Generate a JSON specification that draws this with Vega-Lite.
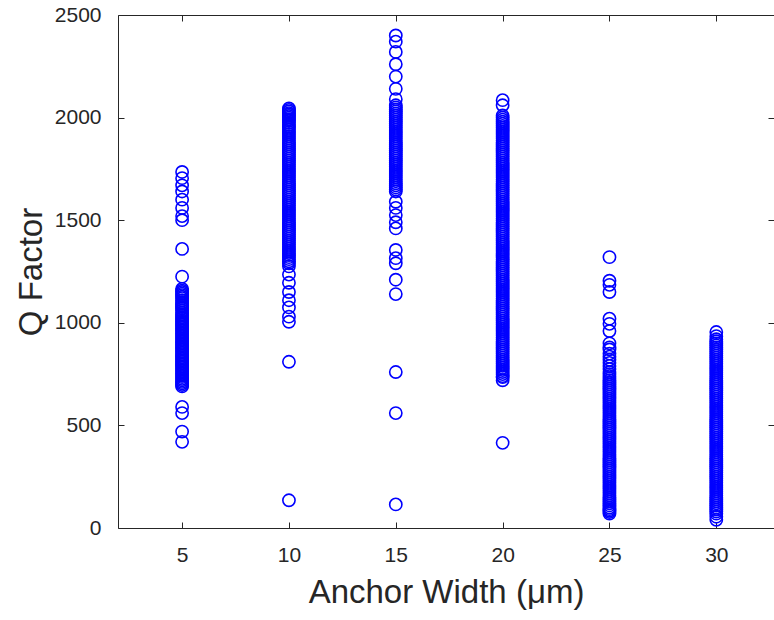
{
  "$schema": "https://vega.github.io/schema/vega-lite/v6.json",
  "autosize": "none",
  "padding": {"left": 118, "top": 15, "right": 0, "bottom": 92},
  "width": 656,
  "height": 513,
  "background": "white",
  "config": {
    "view": {"stroke": "#262626", "strokeWidth": 1},
    "font": "Liberation Sans",
    "axis": {
      "grid": false,
      "domain": false,
      "tickColor": "#262626",
      "tickSize": -6,
      "tickWidth": 1,
      "labelColor": "#262626",
      "labelFontSize": 21,
      "labelFont": "Liberation Sans",
      "titleFont": "Liberation Sans",
      "titleFontSize": 33,
      "titleFontWeight": "normal",
      "titleColor": "#262626",
      "format": "d"
    }
  },
  "data": {"values": [
    {"w":5,"q":1735},{"w":5,"q":1705},{"w":5,"q":1670},{"w":5,"q":1640},{"w":5,"q":1600},{"w":5,"q":1560},{"w":5,"q":1520},{"w":5,"q":1500},
    {"w":5,"q":1360},{"w":5,"q":1225},{"w":5,"q":1165},{"w":5,"q":1150},{"w":5,"q":1135},{"w":5,"q":1120},{"w":5,"q":1100},{"w":5,"q":1085},{"w":5,"q":1070},{"w":5,"q":1050},{"w":5,"q":1035},{"w":5,"q":1020},{"w":5,"q":1005},{"w":5,"q":990},{"w":5,"q":975},{"w":5,"q":960},{"w":5,"q":945},{"w":5,"q":930},{"w":5,"q":915},{"w":5,"q":900},{"w":5,"q":885},{"w":5,"q":870},{"w":5,"q":855},{"w":5,"q":840},{"w":5,"q":825},{"w":5,"q":810},{"w":5,"q":795},{"w":5,"q":780},{"w":5,"q":765},{"w":5,"q":750},{"w":5,"q":735},{"w":5,"q":720},{"w":5,"q":705},{"w":5,"q":690},
    {"w":5,"q":1157},{"w":5,"q":1142},{"w":5,"q":1127},{"w":5,"q":1110},{"w":5,"q":1092},{"w":5,"q":1077},{"w":5,"q":1060},{"w":5,"q":1042},{"w":5,"q":1027},{"w":5,"q":1012},{"w":5,"q":997},{"w":5,"q":982},{"w":5,"q":967},{"w":5,"q":952},{"w":5,"q":937},{"w":5,"q":922},{"w":5,"q":907},{"w":5,"q":892},{"w":5,"q":877},{"w":5,"q":862},{"w":5,"q":847},{"w":5,"q":832},{"w":5,"q":817},{"w":5,"q":802},{"w":5,"q":787},{"w":5,"q":772},{"w":5,"q":757},{"w":5,"q":742},{"w":5,"q":727},{"w":5,"q":712},{"w":5,"q":697},
    {"w":5,"q":590},{"w":5,"q":560},{"w":5,"q":470},{"w":5,"q":420},
    {"w":10,"q":2045},{"w":10,"q":2030},{"w":10,"q":2015},{"w":10,"q":2000},{"w":10,"q":1985},{"w":10,"q":1965},{"w":10,"q":1950},{"w":10,"q":1930},{"w":10,"q":1910},{"w":10,"q":1890},{"w":10,"q":1870},{"w":10,"q":1850},{"w":10,"q":1830},{"w":10,"q":1810},{"w":10,"q":1790},{"w":10,"q":1770},{"w":10,"q":1750},{"w":10,"q":1730},{"w":10,"q":1710},{"w":10,"q":1690},{"w":10,"q":1670},{"w":10,"q":1650},{"w":10,"q":1630},{"w":10,"q":1610},{"w":10,"q":1590},{"w":10,"q":1570},{"w":10,"q":1550},{"w":10,"q":1530},{"w":10,"q":1510},{"w":10,"q":1490},{"w":10,"q":1470},{"w":10,"q":1450},{"w":10,"q":1430},{"w":10,"q":1410},{"w":10,"q":1390},{"w":10,"q":1370},{"w":10,"q":1350},{"w":10,"q":1330},{"w":10,"q":1310},{"w":10,"q":1290},{"w":10,"q":1275},
    {"w":10,"q":2038},{"w":10,"q":2022},{"w":10,"q":2008},{"w":10,"q":1992},{"w":10,"q":1975},{"w":10,"q":1958},{"w":10,"q":1940},{"w":10,"q":1920},{"w":10,"q":1900},{"w":10,"q":1880},{"w":10,"q":1860},{"w":10,"q":1840},{"w":10,"q":1820},{"w":10,"q":1800},{"w":10,"q":1780},{"w":10,"q":1760},{"w":10,"q":1740},{"w":10,"q":1720},{"w":10,"q":1700},{"w":10,"q":1680},{"w":10,"q":1660},{"w":10,"q":1640},{"w":10,"q":1620},{"w":10,"q":1600},{"w":10,"q":1580},{"w":10,"q":1560},{"w":10,"q":1540},{"w":10,"q":1520},{"w":10,"q":1500},{"w":10,"q":1480},{"w":10,"q":1460},{"w":10,"q":1440},{"w":10,"q":1420},{"w":10,"q":1400},{"w":10,"q":1380},{"w":10,"q":1360},{"w":10,"q":1340},{"w":10,"q":1320},{"w":10,"q":1300},
    {"w":10,"q":1235},{"w":10,"q":1195},{"w":10,"q":1150},{"w":10,"q":1110},{"w":10,"q":1075},{"w":10,"q":1030},{"w":10,"q":1005},{"w":10,"q":810},{"w":10,"q":135},
    {"w":15,"q":2400},{"w":15,"q":2370},{"w":15,"q":2320},{"w":15,"q":2260},{"w":15,"q":2200},{"w":15,"q":2140},{"w":15,"q":2090},{"w":15,"q":2060},{"w":15,"q":2040},{"w":15,"q":2020},{"w":15,"q":2000},{"w":15,"q":1980},{"w":15,"q":1960},{"w":15,"q":1940},{"w":15,"q":1920},{"w":15,"q":1900},{"w":15,"q":1880},{"w":15,"q":1860},{"w":15,"q":1840},{"w":15,"q":1820},{"w":15,"q":1800},{"w":15,"q":1780},{"w":15,"q":1760},{"w":15,"q":1740},{"w":15,"q":1720},{"w":15,"q":1700},{"w":15,"q":1680},{"w":15,"q":1660},{"w":15,"q":1640},
    {"w":15,"q":2050},{"w":15,"q":2030},{"w":15,"q":2010},{"w":15,"q":1990},{"w":15,"q":1970},{"w":15,"q":1950},{"w":15,"q":1930},{"w":15,"q":1910},{"w":15,"q":1890},{"w":15,"q":1870},{"w":15,"q":1850},{"w":15,"q":1830},{"w":15,"q":1810},{"w":15,"q":1790},{"w":15,"q":1770},{"w":15,"q":1750},{"w":15,"q":1730},{"w":15,"q":1710},{"w":15,"q":1690},{"w":15,"q":1670},{"w":15,"q":1650},
    {"w":15,"q":1590},{"w":15,"q":1560},{"w":15,"q":1525},{"w":15,"q":1490},{"w":15,"q":1460},{"w":15,"q":1355},{"w":15,"q":1315},{"w":15,"q":1290},{"w":15,"q":1210},{"w":15,"q":1140},{"w":15,"q":760},{"w":15,"q":560},{"w":15,"q":115},
    {"w":20,"q":2085},{"w":20,"q":2060},{"w":20,"q":2010},{"w":20,"q":1990},{"w":20,"q":1970},{"w":20,"q":1950},{"w":20,"q":1930},{"w":20,"q":1910},{"w":20,"q":1890},{"w":20,"q":1870},{"w":20,"q":1850},{"w":20,"q":1830},{"w":20,"q":1810},{"w":20,"q":1790},{"w":20,"q":1770},{"w":20,"q":1750},{"w":20,"q":1730},{"w":20,"q":1710},{"w":20,"q":1690},{"w":20,"q":1670},{"w":20,"q":1650},{"w":20,"q":1630},{"w":20,"q":1610},{"w":20,"q":1590},{"w":20,"q":1570},{"w":20,"q":1550},{"w":20,"q":1530},{"w":20,"q":1510},{"w":20,"q":1490},{"w":20,"q":1470},{"w":20,"q":1450},{"w":20,"q":1430},{"w":20,"q":1410},{"w":20,"q":1390},{"w":20,"q":1370},{"w":20,"q":1350},{"w":20,"q":1330},{"w":20,"q":1310},{"w":20,"q":1290},{"w":20,"q":1270},{"w":20,"q":1250},{"w":20,"q":1230},{"w":20,"q":1210},{"w":20,"q":1190},{"w":20,"q":1170},{"w":20,"q":1150},{"w":20,"q":1130},{"w":20,"q":1110},{"w":20,"q":1090},{"w":20,"q":1070},{"w":20,"q":1050},{"w":20,"q":1030},{"w":20,"q":1010},{"w":20,"q":990},{"w":20,"q":970},{"w":20,"q":950},{"w":20,"q":930},{"w":20,"q":910},{"w":20,"q":890},{"w":20,"q":870},{"w":20,"q":850},{"w":20,"q":830},{"w":20,"q":810},{"w":20,"q":790},{"w":20,"q":770},{"w":20,"q":750},{"w":20,"q":735},{"w":20,"q":720},
    {"w":20,"q":2000},{"w":20,"q":1980},{"w":20,"q":1960},{"w":20,"q":1940},{"w":20,"q":1920},{"w":20,"q":1900},{"w":20,"q":1880},{"w":20,"q":1860},{"w":20,"q":1840},{"w":20,"q":1820},{"w":20,"q":1800},{"w":20,"q":1780},{"w":20,"q":1760},{"w":20,"q":1740},{"w":20,"q":1720},{"w":20,"q":1700},{"w":20,"q":1680},{"w":20,"q":1660},{"w":20,"q":1640},{"w":20,"q":1620},{"w":20,"q":1600},{"w":20,"q":1580},{"w":20,"q":1560},{"w":20,"q":1540},{"w":20,"q":1520},{"w":20,"q":1500},{"w":20,"q":1480},{"w":20,"q":1460},{"w":20,"q":1440},{"w":20,"q":1420},{"w":20,"q":1400},{"w":20,"q":1380},{"w":20,"q":1360},{"w":20,"q":1340},{"w":20,"q":1320},{"w":20,"q":1300},{"w":20,"q":1280},{"w":20,"q":1260},{"w":20,"q":1240},{"w":20,"q":1220},{"w":20,"q":1200},{"w":20,"q":1180},{"w":20,"q":1160},{"w":20,"q":1140},{"w":20,"q":1120},{"w":20,"q":1100},{"w":20,"q":1080},{"w":20,"q":1060},{"w":20,"q":1040},{"w":20,"q":1020},{"w":20,"q":1000},{"w":20,"q":980},{"w":20,"q":960},{"w":20,"q":940},{"w":20,"q":920},{"w":20,"q":900},{"w":20,"q":880},{"w":20,"q":860},{"w":20,"q":840},{"w":20,"q":820},{"w":20,"q":800},{"w":20,"q":780},{"w":20,"q":760},{"w":20,"q":740},
    {"w":20,"q":415},
    {"w":25,"q":1320},{"w":25,"q":1205},{"w":25,"q":1185},{"w":25,"q":1150},{"w":25,"q":1020},{"w":25,"q":995},{"w":25,"q":960},{"w":25,"q":900},{"w":25,"q":880},{"w":25,"q":850},{"w":25,"q":820},{"w":25,"q":790},{"w":25,"q":760},{"w":25,"q":740},{"w":25,"q":720},{"w":25,"q":700},{"w":25,"q":680},{"w":25,"q":660},{"w":25,"q":640},{"w":25,"q":620},{"w":25,"q":600},{"w":25,"q":580},{"w":25,"q":560},{"w":25,"q":540},{"w":25,"q":520},{"w":25,"q":500},{"w":25,"q":480},{"w":25,"q":460},{"w":25,"q":440},{"w":25,"q":420},{"w":25,"q":400},{"w":25,"q":380},{"w":25,"q":360},{"w":25,"q":340},{"w":25,"q":320},{"w":25,"q":300},{"w":25,"q":280},{"w":25,"q":260},{"w":25,"q":240},{"w":25,"q":220},{"w":25,"q":200},{"w":25,"q":180},{"w":25,"q":160},{"w":25,"q":140},{"w":25,"q":120},{"w":25,"q":100},{"w":25,"q":85},{"w":25,"q":70},
    {"w":25,"q":870},{"w":25,"q":835},{"w":25,"q":805},{"w":25,"q":775},{"w":25,"q":750},{"w":25,"q":730},{"w":25,"q":710},{"w":25,"q":690},{"w":25,"q":670},{"w":25,"q":650},{"w":25,"q":630},{"w":25,"q":610},{"w":25,"q":590},{"w":25,"q":570},{"w":25,"q":550},{"w":25,"q":530},{"w":25,"q":510},{"w":25,"q":490},{"w":25,"q":470},{"w":25,"q":450},{"w":25,"q":430},{"w":25,"q":410},{"w":25,"q":390},{"w":25,"q":370},{"w":25,"q":350},{"w":25,"q":330},{"w":25,"q":310},{"w":25,"q":290},{"w":25,"q":270},{"w":25,"q":250},{"w":25,"q":230},{"w":25,"q":210},{"w":25,"q":190},{"w":25,"q":170},{"w":25,"q":150},{"w":25,"q":130},{"w":25,"q":110},{"w":25,"q":92},{"w":25,"q":78},
    {"w":30,"q":955},{"w":30,"q":935},{"w":30,"q":910},{"w":30,"q":890},{"w":30,"q":870},{"w":30,"q":850},{"w":30,"q":830},{"w":30,"q":810},{"w":30,"q":790},{"w":30,"q":770},{"w":30,"q":750},{"w":30,"q":730},{"w":30,"q":710},{"w":30,"q":690},{"w":30,"q":670},{"w":30,"q":650},{"w":30,"q":630},{"w":30,"q":610},{"w":30,"q":590},{"w":30,"q":570},{"w":30,"q":550},{"w":30,"q":530},{"w":30,"q":510},{"w":30,"q":490},{"w":30,"q":470},{"w":30,"q":450},{"w":30,"q":430},{"w":30,"q":410},{"w":30,"q":390},{"w":30,"q":370},{"w":30,"q":350},{"w":30,"q":330},{"w":30,"q":310},{"w":30,"q":290},{"w":30,"q":270},{"w":30,"q":250},{"w":30,"q":230},{"w":30,"q":210},{"w":30,"q":190},{"w":30,"q":170},{"w":30,"q":150},{"w":30,"q":130},{"w":30,"q":110},{"w":30,"q":90},{"w":30,"q":70},{"w":30,"q":40},
    {"w":30,"q":920},{"w":30,"q":900},{"w":30,"q":880},{"w":30,"q":860},{"w":30,"q":840},{"w":30,"q":820},{"w":30,"q":800},{"w":30,"q":780},{"w":30,"q":760},{"w":30,"q":740},{"w":30,"q":720},{"w":30,"q":700},{"w":30,"q":680},{"w":30,"q":660},{"w":30,"q":640},{"w":30,"q":620},{"w":30,"q":600},{"w":30,"q":580},{"w":30,"q":560},{"w":30,"q":540},{"w":30,"q":520},{"w":30,"q":500},{"w":30,"q":480},{"w":30,"q":460},{"w":30,"q":440},{"w":30,"q":420},{"w":30,"q":400},{"w":30,"q":380},{"w":30,"q":360},{"w":30,"q":340},{"w":30,"q":320},{"w":30,"q":300},{"w":30,"q":280},{"w":30,"q":260},{"w":30,"q":240},{"w":30,"q":220},{"w":30,"q":200},{"w":30,"q":180},{"w":30,"q":160},{"w":30,"q":140},{"w":30,"q":120},{"w":30,"q":100},{"w":30,"q":80},{"w":30,"q":55}
  ]},
  "layer": [
    {
      "mark": {"type": "point", "shape": "circle", "filled": false, "color": "#0000FF", "size": 150, "strokeWidth": 1.6, "opacity": 1},
      "encoding": {
        "x": {"field": "w", "type": "quantitative", "scale": {"domain": [2, 32.7], "nice": false, "zero": false},
          "axis": {"orient": "bottom", "values": [5,10,15,20,25,30], "title": "Anchor Width (μm)", "labelPadding": 22, "titlePadding": 11}},
        "y": {"field": "q", "type": "quantitative", "scale": {"domain": [0, 2500], "nice": false},
          "axis": {"orient": "left", "values": [0,500,1000,1500,2000,2500], "title": "Q Factor", "labelPadding": 23, "titlePadding": 6}}
      }
    },
    {
      "mark": {"type": "point", "opacity": 0},
      "encoding": {
        "x": {"field": "w", "type": "quantitative", "axis": {"orient": "top", "values": [5,10,15,20,25,30], "labels": false, "title": null}},
        "y": {"field": "q", "type": "quantitative", "axis": {"orient": "right", "values": [0,500,1000,1500,2000,2500], "labels": false, "title": null}}
      }
    }
  ],
  "resolve": {"axis": {"x": "independent", "y": "independent"}}
}
